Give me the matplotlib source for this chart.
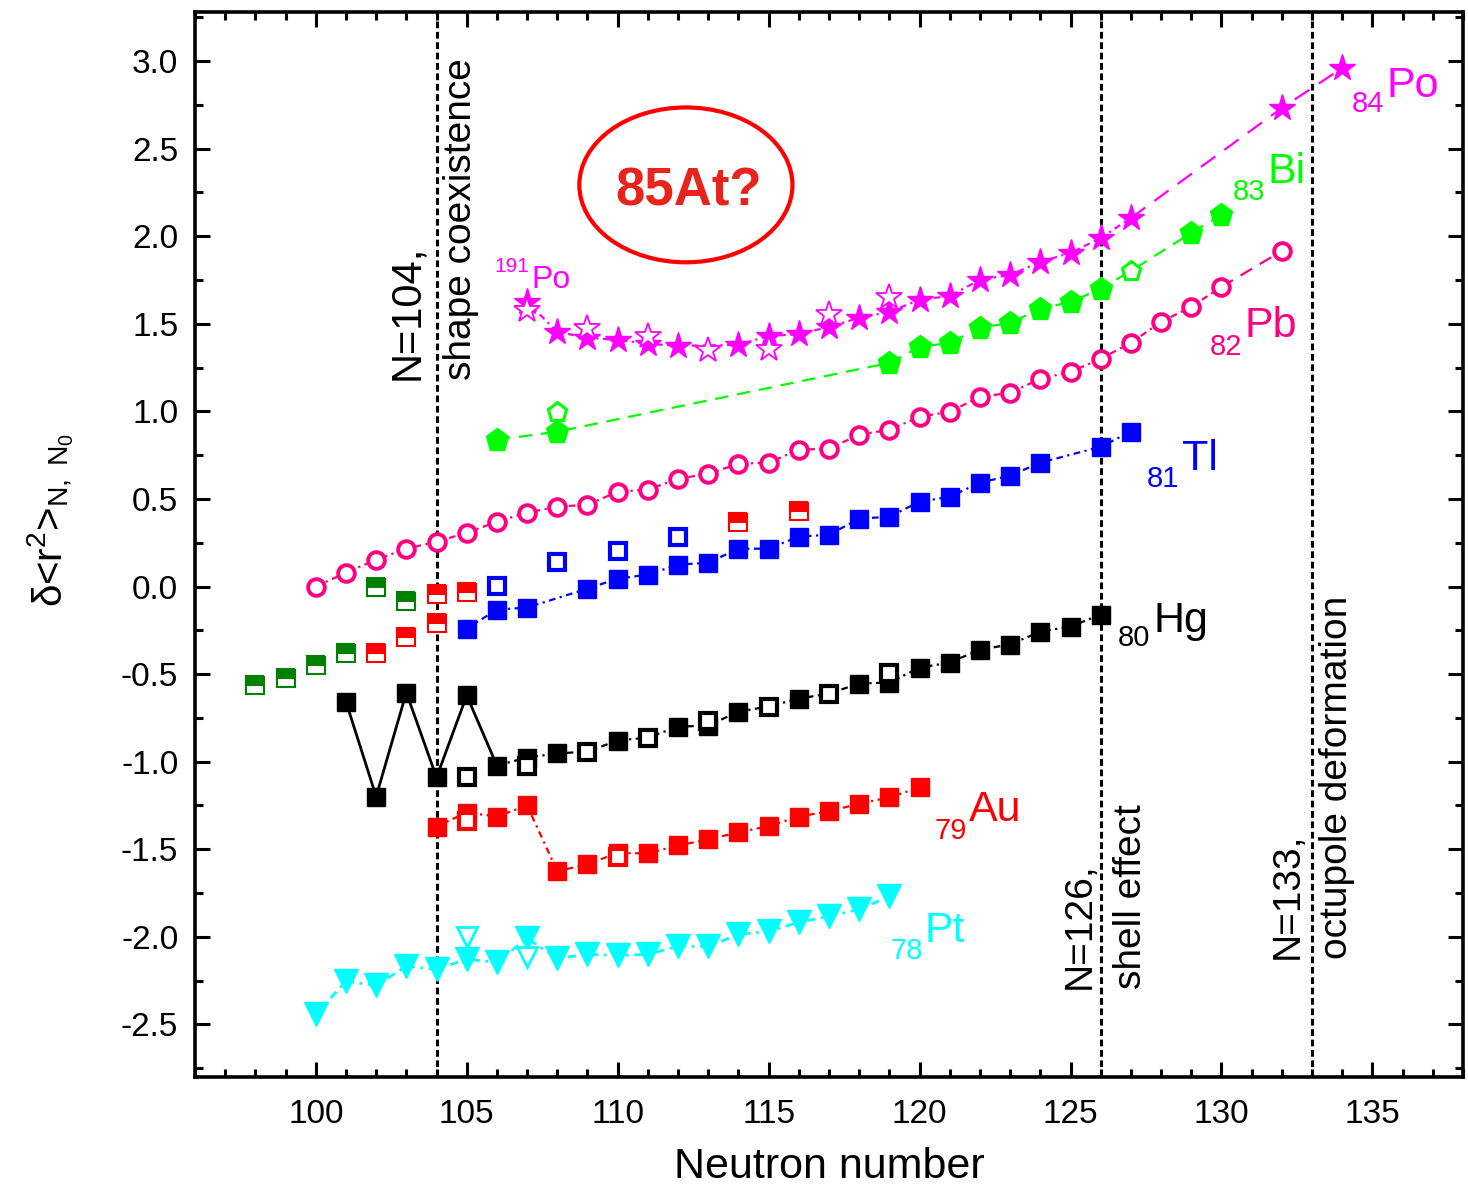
import matplotlib
matplotlib.use("Agg")
import matplotlib.pyplot as plt
from matplotlib.patches import Ellipse
from matplotlib.ticker import MultipleLocator

plt.rcParams['font.family'] = ['Liberation Sans', 'DejaVu Sans']
plt.rcParams['mathtext.fontset'] = 'custom'
plt.rcParams['mathtext.rm'] = 'Liberation Sans'
plt.rcParams['mathtext.it'] = 'Liberation Sans'
plt.rcParams['axes.unicode_minus'] = False

# ---- data: delta <r^2> vs neutron number ----
# Po (Z=84)
po_n = [107, 108, 109, 110, 111, 112, 114, 115, 116, 117, 118, 119, 120, 121, 122, 123, 124, 125, 126, 127]
po_v = [1.625, 1.454, 1.420, 1.408, 1.386, 1.374, 1.380, 1.431, 1.440, 1.483, 1.534, 1.568, 1.637, 1.659,
        1.751, 1.779, 1.853, 1.905, 1.990, 2.104]
po_far_n = [127, 132, 134]
po_far_v = [2.104, 2.732, 2.960]
po_open_n = [107, 109, 111, 113, 115, 117, 119]
po_open_v = [1.580, 1.477, 1.431, 1.351, 1.354, 1.557, 1.654]

# Bi (Z=83)
bi_n = [106, 108, 119, 120, 121, 122, 123, 124, 125, 126, 127, 129, 130]
bi_v = [0.838, 0.884, 1.277, 1.368, 1.391, 1.477, 1.505, 1.585, 1.625, 1.700, 1.802, 2.019, 2.122]
bi_open_n = [108, 127]
bi_open_v = [0.998, 1.802]

# Pb (Z=82)
pb_n = list(range(100, 131)) + [132]
pb_v = [0.000, 0.079, 0.153, 0.216, 0.256, 0.307, 0.370, 0.422, 0.456, 0.467, 0.541, 0.553, 0.615, 0.644,
        0.701, 0.707, 0.781, 0.787, 0.867, 0.895, 0.969, 0.998, 1.083, 1.106, 1.186, 1.226, 1.300, 1.391,
        1.511, 1.597, 1.711, 1.916]

# Tl (Z=81)
tl_n = [105, 106, 107, 109, 110, 111, 112, 113, 114, 115, 116, 117, 118, 119, 120, 121, 122, 123, 124, 126, 127]
tl_v = [-0.240, -0.132, -0.120, -0.012, 0.045, 0.068, 0.125, 0.136, 0.216, 0.216, 0.285, 0.296, 0.387, 0.399,
        0.484, 0.513, 0.593, 0.633, 0.707, 0.798, 0.884]
tl_open_n = [106, 108, 110, 112]
tl_open_v = [0.005, 0.142, 0.205, 0.285]

# Hg (Z=80)
hg_zig_n = [101, 102, 103, 104, 105, 106]
hg_zig_v = [-0.657, -1.199, -0.605, -1.090, -0.622, -1.022]
hg_n = [106, 107, 108, 110, 112, 113, 114, 116, 118, 119, 120, 121, 122, 123, 124, 125, 126]
hg_v = [-1.022, -0.976, -0.953, -0.879, -0.800, -0.794, -0.714, -0.640, -0.554, -0.548, -0.463, -0.434,
        -0.360, -0.331, -0.257, -0.229, -0.160]
hg_line_n = [106, 107, 108, 109, 110, 111, 112, 113, 114, 115, 116, 117, 118, 119, 120, 121, 122, 123, 124, 125, 126]
hg_line_v = [-1.022, -0.976, -0.953, -0.942, -0.879, -0.862, -0.800, -0.794, -0.714, -0.685, -0.640, -0.611,
             -0.554, -0.548, -0.463, -0.434, -0.360, -0.331, -0.257, -0.229, -0.160]
hg_open_n = [105, 107, 109, 111, 113, 115, 117, 119]
hg_open_v = [-1.090, -1.022, -0.942, -0.862, -0.765, -0.685, -0.611, -0.491]

# Au (Z=79)
au_n = [104, 105, 106, 107, 108, 109, 110, 111, 112, 113, 114, 115, 116, 117, 118, 119, 120]
au_v = [-1.370, -1.290, -1.313, -1.250, -1.625, -1.586, -1.520, -1.524, -1.478, -1.444, -1.403, -1.368,
        -1.313, -1.283, -1.240, -1.204, -1.147]
au_open_n = [105, 110]
au_open_v = [-1.340, -1.545]

# Pt (Z=78)
pt_n = list(range(100, 120))
pt_v = [-2.442, -2.254, -2.277, -2.168, -2.185, -2.128, -2.145, -2.008, -2.123, -2.100, -2.106, -2.100,
        -2.054, -2.054, -1.986, -1.969, -1.917, -1.883, -1.843, -1.769]
pt_open_n = [105, 107]
pt_open_v = [-2.003, -2.117]

# half-filled squares
hg_half_n = [98, 99, 100, 101, 102, 103]
hg_half_v = [-0.560, -0.520, -0.450, -0.377, 0.000, -0.080]
au_half_n = [102, 103, 104, 104, 105, 114, 116]
au_half_v = [-0.377, -0.290, -0.210, -0.040, -0.030, 0.370, 0.433]

MAG = '#FF00FF'
GRN = '#00FF00'
PNK = '#FF0080'
BLU = '#0000FF'
RED = '#FF0000'
CYN = '#00FFFF'
DGR = '#008000'

dashdot = (0, (3, 2, 1, 2))

fig = plt.figure(figsize=(14.68, 11.87), dpi=100)
ax = fig.add_axes([195 / 1468, 1 - 1077 / 1187, (1463 - 195) / 1468, (1077 - 12) / 1187])

# vertical reference lines
for n0 in [104, 126, 133]:
    ax.axvline(n0, color='black', lw=2.2, ls=(0, (2.2, 1.2)), zorder=1)

# Po
ax.plot(po_n, po_v, color=MAG, lw=1.6, ls=dashdot, zorder=2)
ax.plot(po_far_n, po_far_v, color=MAG, lw=1.6, ls=(0, (8, 5)), zorder=2)
ax.plot(po_n + po_far_n[1:], po_v + po_far_v[1:], ls='none', marker='*', ms=20, color=MAG, zorder=3)
ax.plot(po_open_n, po_open_v, ls='none', marker='*', ms=19, mfc='white', mec=MAG, mew=1.3, zorder=4)

# Bi
ax.plot(bi_n, bi_v, color=GRN, lw=1.6, ls=(0, (6, 4)), zorder=2)
ax.plot([n for n in bi_n if n != 127], [v for n, v in zip(bi_n, bi_v) if n != 127],
        ls='none', marker='p', ms=17, color=GRN, zorder=3)
ax.plot(bi_open_n, bi_open_v, ls='none', marker='p', ms=14, mfc='white', mec=GRN, mew=2.2, zorder=4)

# Pb
ax.plot(pb_n[:-1], pb_v[:-1], color=PNK, lw=1.6, ls=dashdot, zorder=2)
ax.plot(pb_n[-2:], pb_v[-2:], color=PNK, lw=1.6, ls=(0, (6, 4)), zorder=2)
ax.plot(pb_n, pb_v, ls='none', marker='o', ms=12, mfc='white', mec=PNK, mew=2.8, zorder=3)

# Tl
ax.plot(tl_n, tl_v, color=BLU, lw=1.6, ls=dashdot, zorder=2)
ax.plot(tl_n, tl_v, ls='none', marker='s', ms=13, color=BLU, zorder=3)
ax.plot(tl_open_n, tl_open_v, ls='none', marker='s', ms=11, mfc='white', mec=BLU, mew=3, zorder=4)

# Hg
ax.plot(hg_zig_n, hg_zig_v, color='black', lw=2, zorder=2)
ax.plot(hg_line_n, hg_line_v, color='black', lw=1.6, ls=dashdot, zorder=2)
ax.plot(hg_zig_n + hg_n[1:], hg_zig_v + hg_v[1:], ls='none', marker='s', ms=13, color='black', zorder=3)
ax.plot(hg_open_n, hg_open_v, ls='none', marker='s', ms=11, mfc='white', mec='black', mew=3, zorder=4)

# Au
ax.plot(au_n, au_v, color=RED, lw=1.6, ls=dashdot, zorder=2)
ax.plot(au_n, au_v, ls='none', marker='s', ms=13, color=RED, zorder=3)
ax.plot(au_open_n, au_open_v, ls='none', marker='s', ms=11, mfc='white', mec=RED, mew=3, zorder=4)

# Pt
ax.plot(pt_n, pt_v, color=CYN, lw=2, ls=dashdot, zorder=2)
ax.plot(pt_n, pt_v, ls='none', marker='v', ms=17, color=CYN, zorder=3)
ax.plot(pt_open_n, pt_open_v, ls='none', marker='v', ms=15, mfc='white', mec=CYN, mew=2, zorder=4)

# half-filled squares
ax.plot(hg_half_n, hg_half_v, ls='none', marker='s', ms=12.5, fillstyle='top', color=DGR,
        markerfacecoloralt='white', mec=DGR, mew=1.5, zorder=4)
ax.plot(au_half_n, au_half_v, ls='none', marker='s', ms=12.5, fillstyle='top', color=RED,
        markerfacecoloralt='white', mec=RED, mew=1.5, zorder=4)

# element labels
labels = [
    (134.31, 2.709, '84', 135.47, 2.795, 'Po', MAG),
    (130.36, 2.207, '83', 131.52, 2.304, 'Bi', GRN),
    (129.60, 1.323, '82', 130.76, 1.426, 'Pb', PNK),
    (127.51, 0.570, '81', 128.70, 0.667, 'Tl', BLU),
    (126.58, -0.337, '80', 127.74, -0.257, 'Hg', 'black'),
    (120.48, -1.444, '79', 121.64, -1.341, 'Au', RED),
    (119.03, -2.128, '78', 120.15, -2.031, 'Pt', CYN),
]
for xs, ys, zs, xe, ye, el, c in labels:
    ax.text(xs, ys, zs, fontsize=21, color=c, ha='left', va='baseline')
    ax.text(xe, ye, el, fontsize=31, color=c, ha='left', va='baseline')
ax.text(105.9, 1.796, '191', fontsize=15, color=MAG, ha='left', va='baseline')
ax.text(107.13, 1.705, 'Po', fontsize=23, color=MAG, ha='left', va='baseline')

# rotated annotations
ax.text(103.02, 1.18, 'N=104,', rotation=90, fontsize=30, ha='center', va='bottom')
ax.text(104.8, 1.18, 'shape coexistence', rotation=90, fontsize=28, ha='center', va='bottom')
ax.text(125.29, -2.30, 'N=126,', rotation=90, fontsize=28, ha='center', va='bottom')
ax.text(127.0, -2.30, 'shell effect', rotation=90, fontsize=28, ha='center', va='bottom')
ax.text(132.18, -2.128, 'N=133,', rotation=90, fontsize=28, ha='center', va='bottom')
ax.text(133.84, -2.128, 'octupole deformation', rotation=90, fontsize=28, ha='center', va='bottom')

# 85At? bubble
ax.add_patch(Ellipse((112.26, 2.293), 7.06, 0.884, fill=False, ec=RED, lw=3, zorder=5))
ax.text(112.36, 2.253, '85At?', fontsize=38, fontweight='bold', color='#E8231C',
        ha='center', va='center', zorder=5)

ax.set_xlim(96, 138)
ax.set_ylim(-2.8, 3.28)
ax.xaxis.set_minor_locator(MultipleLocator(1))
ax.yaxis.set_minor_locator(MultipleLocator(0.25))
ax.set_xticks(range(100, 136, 5))
ax.set_yticks([-2.5, -2.0, -1.5, -1.0, -0.5, 0.0, 0.5, 1.0, 1.5, 2.0, 2.5, 3.0])
ax.yaxis.set_major_formatter(matplotlib.ticker.FormatStrFormatter('%.1f'))
ax.tick_params(which='both', direction='in', top=True, right=True, width=2.2, labelsize=24)
ax.tick_params(axis='x', which='major', length=11, pad=16)
ax.tick_params(axis='y', which='major', length=11, pad=12)
ax.tick_params(which='minor', length=6)
for s in ax.spines.values():
    s.set_linewidth(2.6)

ax.set_xlabel('Neutron number', fontsize=31, labelpad=12)
ax.set_ylabel('δ<r$^2$>$_{\\mathrm{N,\\ N}_0}$', fontsize=29)
ax.yaxis.set_label_coords(-0.094, 0.523)

fig.savefig('out.png', dpi=100)
